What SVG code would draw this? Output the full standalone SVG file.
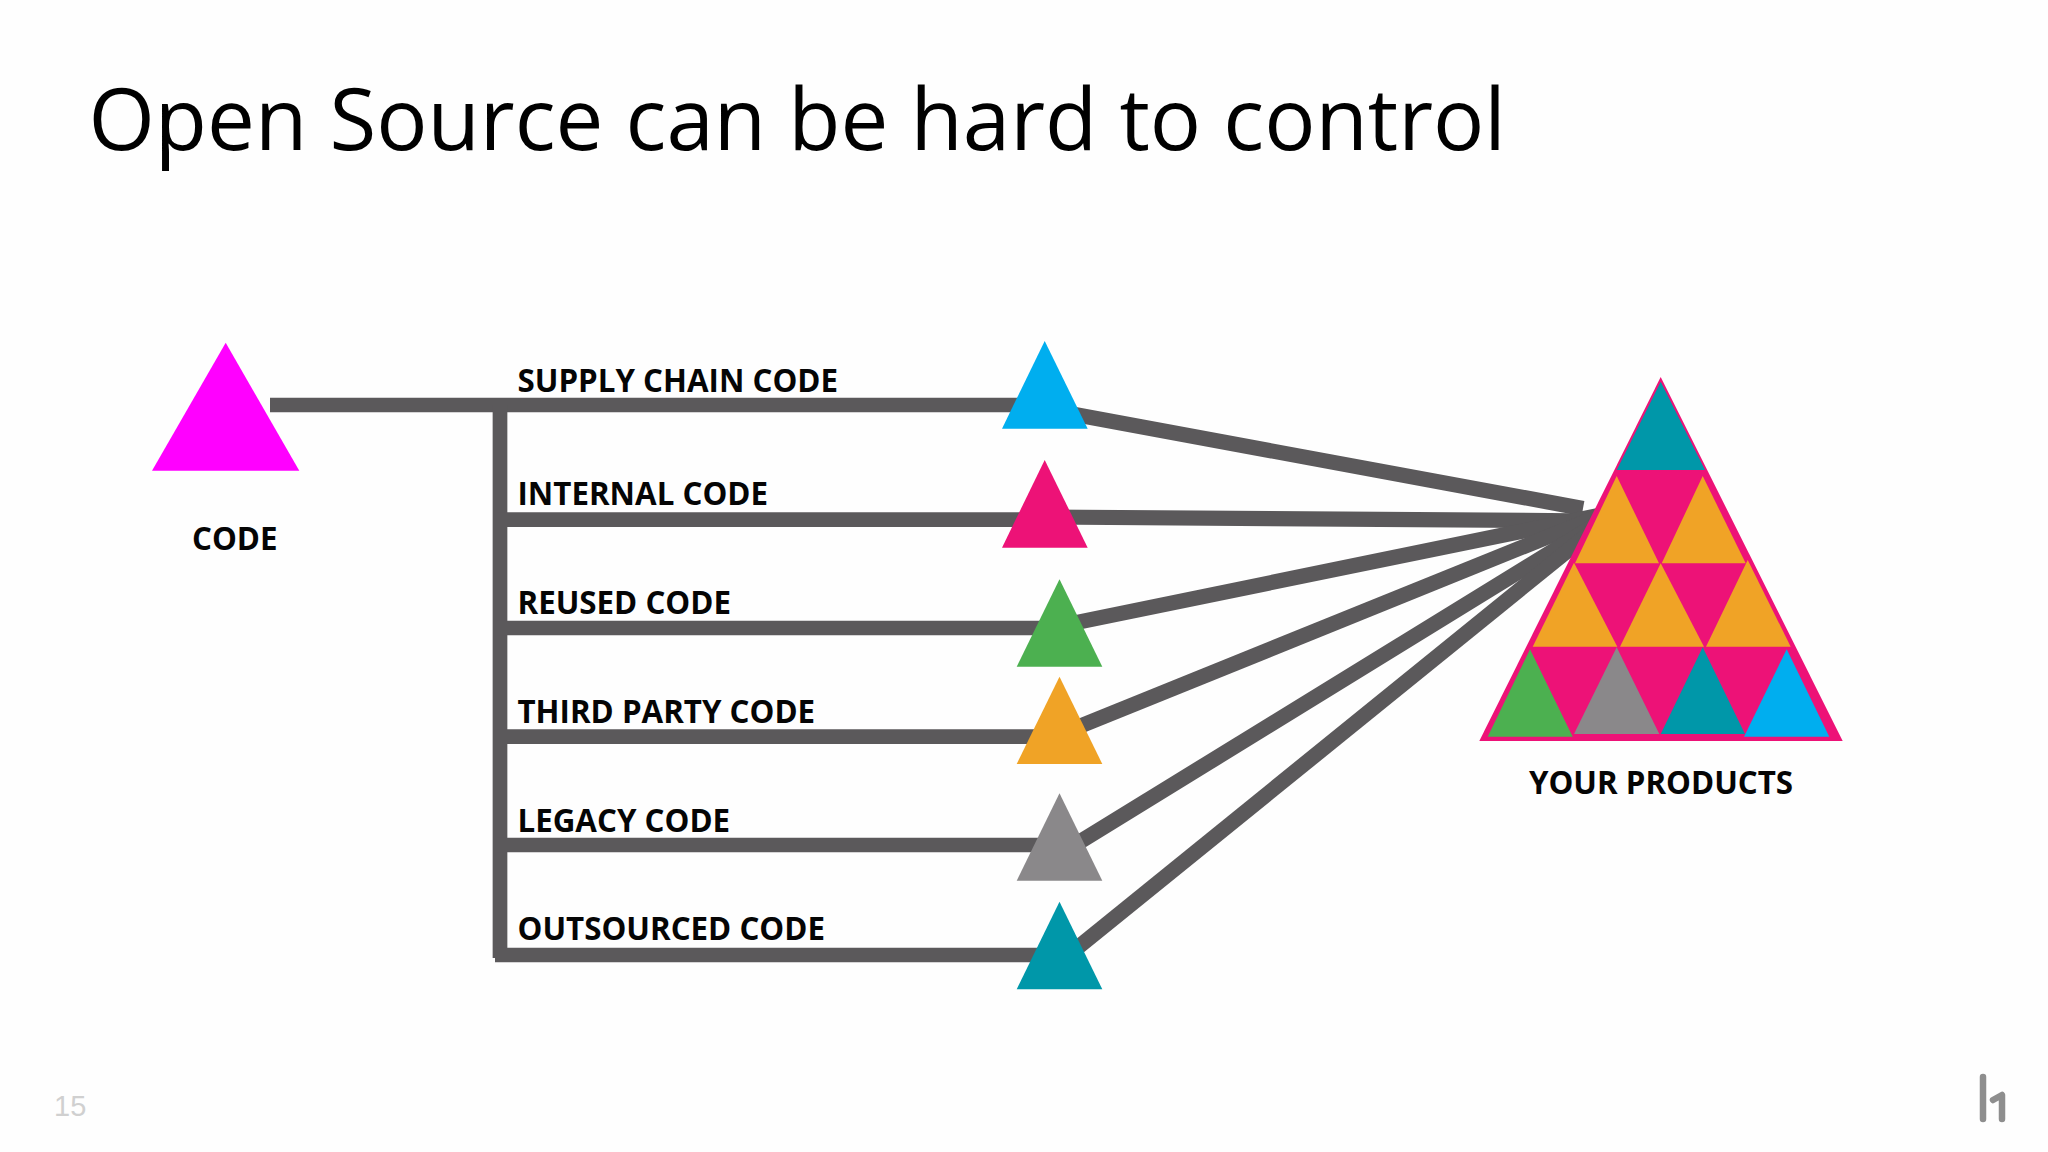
<svg xmlns="http://www.w3.org/2000/svg" width="2048" height="1152" viewBox="0 0 2048 1152">
<style>
.t{font-family:"Open Sans","Noto Sans",sans-serif;fill:#000}
.l{font-family:"Open Sans","Noto Sans",sans-serif;font-weight:700;font-size:31.3px;fill:#050505}
.c line{stroke:#5b595b;stroke-width:14.7;fill:none}
.c line.d{stroke-width:15.2}
.pink{fill:#ed1277}.blue{fill:#00aeef}.green{fill:#4cb050}.orange{fill:#f0a326}.gray{fill:#8a888a}.teal{fill:#0097a9}
</style>
<rect width="2048" height="1152" fill="#fefefe"/>
<text id="title" class="t" x="88.5" y="149.5" font-size="85.3">Open Source can be hard to control</text>
<g id="connectors" class="c">
<line x1="270" y1="405" x2="1045" y2="405"/>
<line x1="500" y1="405" x2="500" y2="958"/>
<line x1="497" y1="519.7" x2="1045" y2="519.7"/>
<line x1="497" y1="628" x2="1060" y2="628"/>
<line x1="497" y1="736.7" x2="1060" y2="736.7"/>
<line x1="497" y1="845" x2="1060" y2="845"/>
<line x1="495" y1="955" x2="1060" y2="955"/>
<line class="d" x1="1060" y1="411.8" x2="1583" y2="508.5"/>
<line class="d" x1="1045" y1="517" x2="1600" y2="521"/>
<line class="d" x1="1060" y1="625.9" x2="1600" y2="515.2"/>
<line class="d" x1="1060" y1="734.3" x2="1600" y2="515.7"/>
<line class="d" x1="1060" y1="854" x2="1600" y2="521.9"/>
<line class="d" x1="1060" y1="961.9" x2="1600" y2="524.5"/>
</g>
<g id="code"><polygon points="225.7,342.7 299.3,470.7 152,470.7" fill="#ff00ff"/><text class="l" x="192" y="549.5">CODE</text></g>
<g id="supply-chain"><polygon class="blue" points="1044.7,341 1087.7,428.7 1002,428.7"/><text class="l" x="517.5" y="391.5">SUPPLY CHAIN CODE</text></g>
<g id="internal"><polygon class="pink" points="1044.7,460 1087.7,547.7 1002,547.7"/><text class="l" x="517.5" y="504.5">INTERNAL CODE</text></g>
<g id="reused"><polygon class="green" points="1059.5,579.3 1102.3,666.7 1016.7,666.7"/><text class="l" x="517.5" y="613.5">REUSED CODE</text></g>
<g id="third-party"><polygon class="orange" points="1059.5,676.7 1102.3,764 1016.7,764"/><text class="l" x="517.5" y="722.5">THIRD PARTY CODE</text></g>
<g id="legacy"><polygon class="gray" points="1059.5,793.3 1102.3,880.7 1016.7,880.7"/><text class="l" x="517.5" y="831.5">LEGACY CODE</text></g>
<g id="outsourced"><polygon class="teal" points="1059.5,901.7 1102.3,989.3 1016.7,989.3"/><text class="l" x="517.5" y="940">OUTSOURCED CODE</text></g>
<g id="your-products">
<polygon class="pink" points="1660.7,377 1842.7,741 1479.3,741"/>
<polygon class="teal" points="1660.7,381.7 1705,470 1616.7,470"/>
<polygon class="orange" points="1616.7,476 1659,563.3 1575,563.3"/>
<polygon class="orange" points="1702.7,476 1745.7,563.3 1661.7,563.3"/>
<polygon class="orange" points="1574,562.7 1617.3,646.7 1532.7,646.7"/>
<polygon class="orange" points="1660.7,563.3 1704,646.7 1620,646.7"/>
<polygon class="orange" points="1747.7,560 1790.7,646.7 1706,646.7"/>
<polygon class="green" points="1530,649.3 1572.7,736.7 1487.7,736.7"/>
<polygon class="gray" points="1616.7,647.3 1659.3,734 1574,734"/>
<polygon class="teal" points="1702.7,647.3 1745,734 1660.7,734"/>
<polygon class="blue" points="1786.7,649.3 1829.3,736.7 1744,736.7"/>
<text class="l" x="1661" y="794" text-anchor="middle">YOUR PRODUCTS</text>
</g>
<text id="page" x="54" y="1116" font-family="Liberation Sans, Arial, sans-serif" font-size="29" fill="#d0d0d0">15</text>
<g id="logo" fill="none" stroke="#8e8e8e" stroke-width="6.5" stroke-linecap="round" stroke-linejoin="round">
<path d="M1983 1077V1119"/><path d="M1993 1100L2002 1095V1119"/>
</g>
</svg>
